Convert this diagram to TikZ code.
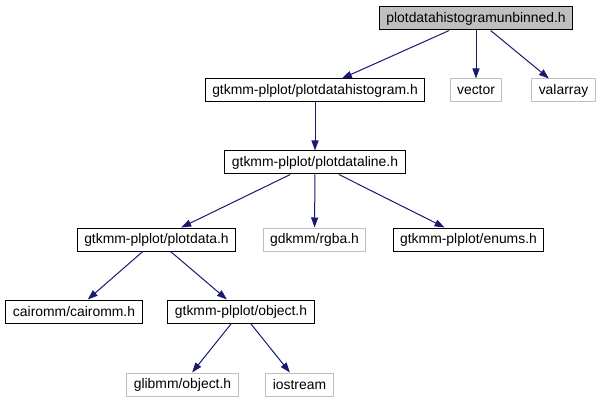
\documentclass[tikz,border=0pt]{standalone}
\usepackage{fontspec}
\setmainfont{Liberation Sans}
\usepackage{tikz}
\usetikzlibrary{arrows.meta}

\definecolor{edgeblue}{HTML}{191970}
\definecolor{extgray}{HTML}{BFBFBF}

\begin{document}
\begin{tikzpicture}[
    x=1pt, y=-1pt,
    font=\fontsize{13.9}{16}\selectfont,
    filebox/.style ={draw=black, line width=1pt, rectangle, minimum height=23pt, inner xsep=7pt, inner ysep=0pt},
    rootbox/.style ={filebox, fill=extgray},
    extbox/.style  ={filebox, draw=extgray},
    incl/.style    ={draw=edgeblue, line width=1pt, -{Triangle[length=10pt,width=7pt]}},
  ]
  \useasboundingbox (0,0) rectangle (604,403);

  % ---- row 1: the file itself ----
  \node[rootbox] (unbinned) at (476,18.5) {plotdatahistogramunbinned.h};

  % ---- row 2 ----
  \node[filebox] (histogram) at (315,90.5)   {gtkmm-plplot/plotdatahistogram.h};
  \node[extbox]  (vector)    at (476,90.5)   {vector};
  \node[extbox]  (valarray)  at (563.5,90.5) {valarray};

  % ---- row 3 ----
  \node[filebox] (dataline) at (315,162.5) {gtkmm-plplot/plotdataline.h};

  % ---- row 4 ----
  \node[filebox] (plotdata) at (156.5,239.5) {gtkmm-plplot/plotdata.h};
  \node[extbox]  (rgba)     at (314.5,239.5) {gdkmm/rgba.h};
  \node[filebox] (enums)    at (468.5,239.5) {gtkmm-plplot/enums.h};

  % ---- row 5 ----
  \node[filebox] (cairomm) at (74,311.5)  {cairomm/cairomm.h};
  \node[filebox] (object)  at (241,311.5) {gtkmm-plplot/object.h};

  % ---- row 6 ----
  \node[extbox] (glibobj)  at (182.5,384.5) {glibmm/object.h};
  \node[extbox] (iostream) at (299.5,384.5) {iostream};

  % ---- include edges ----
  \draw[incl] (unbinned) -- (histogram);
  \draw[incl] (unbinned) -- (vector);
  \draw[incl] (unbinned) -- (valarray);
  \draw[incl] (histogram) -- (dataline);
  \draw[incl] (dataline) -- (plotdata);
  \draw[incl] (dataline) -- (rgba);
  \draw[incl] (dataline) -- (enums);
  \draw[incl] (plotdata) -- (cairomm);
  \draw[incl] (plotdata) -- (object);
  \draw[incl] (object) -- (glibobj);
  \draw[incl] (object) -- (iostream);
\end{tikzpicture}
\end{document}
